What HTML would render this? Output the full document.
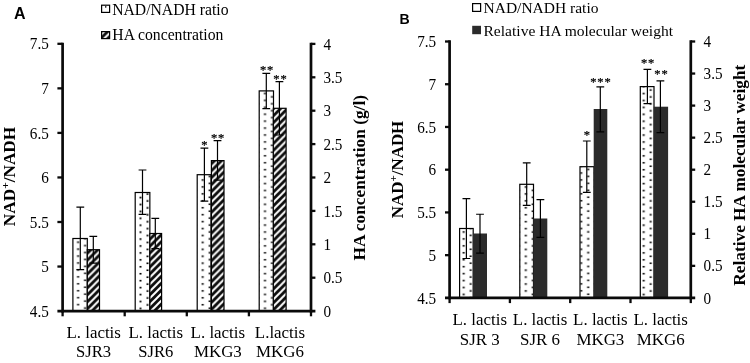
<!DOCTYPE html>
<html lang="en"><head><meta charset="utf-8"><title>NAD/NADH ratio figure</title>
<style>
html,body{margin:0;padding:0;background:#fff;}
body{width:750px;height:363px;overflow:hidden;}
svg{display:block;will-change:transform;filter:grayscale(1);}
text{fill:#000;}
.sf{font-family:"Liberation Serif","DejaVu Serif",serif;}
.ss{font-family:"Liberation Sans","DejaVu Sans",sans-serif;}
</style></head><body>
<svg width="750" height="363" viewBox="0 0 750 363">
<defs>
<pattern id="hG" patternUnits="userSpaceOnUse" x="4.55" y="0" width="6.93" height="6.93"><rect width="6.93" height="6.93" fill="#0c0c0c"/><path d="M-1,7.93L7.93,-1M-7.93,7.93L1,-1M5.93,7.93L14.86,-1" stroke="#fff" stroke-width="2.0" fill="none"/></pattern>
<pattern id="dA0" patternUnits="userSpaceOnUse" x="74.6" y="240.47" width="14" height="6.93"><rect width="14" height="6.93" fill="#fff"/><rect x="2.5" y="0.93" width="2.0" height="1.6" fill="#000"/><rect x="9.5" y="4.4" width="2.0" height="1.6" fill="#000"/></pattern>
<pattern id="dA1" patternUnits="userSpaceOnUse" x="137" y="195.77" width="14" height="6.93"><rect width="14" height="6.93" fill="#fff"/><rect x="2.5" y="0.93" width="2.0" height="1.6" fill="#000"/><rect x="9.5" y="4.4" width="2.0" height="1.6" fill="#000"/></pattern>
<pattern id="dA2" patternUnits="userSpaceOnUse" x="199.2" y="178.27" width="14" height="6.93"><rect width="14" height="6.93" fill="#fff"/><rect x="2.5" y="0.93" width="2.0" height="1.6" fill="#000"/><rect x="9.5" y="4.4" width="2.0" height="1.6" fill="#000"/></pattern>
<pattern id="dA3" patternUnits="userSpaceOnUse" x="261.5" y="112.47" width="14" height="6.93"><rect width="14" height="6.93" fill="#fff"/><rect x="2.5" y="0.93" width="2.0" height="1.6" fill="#000"/><rect x="9.5" y="4.4" width="2.0" height="1.6" fill="#000"/></pattern>
<pattern id="hL" patternUnits="userSpaceOnUse" x="103.2" y="32.6" width="6.93" height="6.93"><rect width="6.93" height="6.93" fill="#0c0c0c"/><path d="M-1,7.93L7.93,-1M-7.93,7.93L1,-1M5.93,7.93L14.86,-1" stroke="#fff" stroke-width="2.0" fill="none"/></pattern>
<pattern id="dB0" patternUnits="userSpaceOnUse" x="460.2" y="230.27" width="14" height="6.93"><rect width="14" height="6.93" fill="#fff"/><rect x="2.5" y="0.93" width="2.0" height="1.6" fill="#000"/><rect x="9.5" y="4.4" width="2.0" height="1.6" fill="#000"/></pattern>
<pattern id="dB1" patternUnits="userSpaceOnUse" x="522.3" y="185.27" width="14" height="6.93"><rect width="14" height="6.93" fill="#fff"/><rect x="2.5" y="0.93" width="2.0" height="1.6" fill="#000"/><rect x="9.5" y="4.4" width="2.0" height="1.6" fill="#000"/></pattern>
<pattern id="dB2" patternUnits="userSpaceOnUse" x="577.7" y="171.27" width="14" height="6.93"><rect width="14" height="6.93" fill="#fff"/><rect x="2.5" y="0.93" width="2.0" height="1.6" fill="#000"/><rect x="9.5" y="4.4" width="2.0" height="1.6" fill="#000"/></pattern>
<pattern id="dB3" patternUnits="userSpaceOnUse" x="640.2" y="140.27" width="14" height="6.93"><rect width="14" height="6.93" fill="#fff"/><rect x="2.5" y="0.93" width="2.0" height="1.6" fill="#000"/><rect x="9.5" y="4.4" width="2.0" height="1.6" fill="#000"/></pattern>
</defs>
<rect width="750" height="363" fill="#fff"/>
<rect x="72.9" y="238.5" width="14.4" height="72.6" fill="url(#dA0)" stroke="#000" stroke-width="1.2"/>
<rect x="87.3" y="249.7" width="12.2" height="61.4" fill="url(#hG)" stroke="#000" stroke-width="1.2"/>
<path d="M76.4,207.2H84.2M80.3,207.2V269.7M76.4,269.7H84.2" stroke="#000" stroke-width="1.2" fill="none"/>
<path d="M89.4,236.3H97.2M93.3,236.3V263.1M89.4,263.1H97.2" stroke="#000" stroke-width="1.2" fill="none"/>
<rect x="135.2" y="192.5" width="14.65" height="118.6" fill="url(#dA1)" stroke="#000" stroke-width="1.2"/>
<rect x="149.85" y="233.5" width="11.75" height="77.6" fill="url(#hG)" stroke="#000" stroke-width="1.2"/>
<path d="M138.6,170H146.4M142.5,170V214.4M138.6,214.4H146.4" stroke="#000" stroke-width="1.2" fill="none"/>
<path d="M151.4,218.4H159.2M155.3,218.4V248.6M151.4,248.6H159.2" stroke="#000" stroke-width="1.2" fill="none"/>
<rect x="197.2" y="174.7" width="13.8" height="136.4" fill="url(#dA2)" stroke="#000" stroke-width="1.2"/>
<rect x="211.4" y="160.6" width="12.6" height="150.5" fill="url(#hG)" stroke="#000" stroke-width="1.2"/>
<path d="M200.5,148.1H208.3M204.4,148.1V201.1M200.5,201.1H208.3" stroke="#000" stroke-width="1.2" fill="none"/>
<path d="M213.6,140.6H221.4M217.5,140.6V180.2M213.6,180.2H221.4" stroke="#000" stroke-width="1.2" fill="none"/>
<rect x="259.2" y="90.9" width="14.3" height="220.2" fill="url(#dA3)" stroke="#000" stroke-width="1.2"/>
<rect x="273.3" y="108.3" width="12.8" height="202.8" fill="url(#hG)" stroke="#000" stroke-width="1.2"/>
<path d="M262.4,73.4H270.2M266.3,73.4V108.7M262.4,108.7H270.2" stroke="#000" stroke-width="1.2" fill="none"/>
<path d="M275.5,81.7H283.3M279.4,81.7V135M275.5,135H283.3" stroke="#000" stroke-width="1.2" fill="none"/>
<text class="sf" transform="translate(204.9,149.19)" font-size="12.5" text-anchor="middle" letter-spacing="0.8" stroke="#000" stroke-width="0.25">*</text>
<text class="sf" transform="translate(218.05,141.59)" font-size="12.5" text-anchor="middle" letter-spacing="0.8" stroke="#000" stroke-width="0.25">**</text>
<text class="sf" transform="translate(267,73.89)" font-size="12.5" text-anchor="middle" letter-spacing="0.8" stroke="#000" stroke-width="0.25">**</text>
<text class="sf" transform="translate(280.4,83.19)" font-size="12.5" text-anchor="middle" letter-spacing="0.8" stroke="#000" stroke-width="0.25">**</text>
<line x1="62.6" y1="42.65" x2="62.6" y2="312.45" stroke="#0a0a0a" stroke-width="2.7"/>
<line x1="311" y1="42.75" x2="311" y2="312.45" stroke="#0a0a0a" stroke-width="2.7"/>
<line x1="57.4" y1="311.1" x2="315.4" y2="311.1" stroke="#0a0a0a" stroke-width="2.7"/>
<line x1="57.4" y1="43.8" x2="62.6" y2="43.8" stroke="#0a0a0a" stroke-width="2.3"/>
<text class="sf" transform="translate(48.8,49.4) scale(0.9700,1)" font-size="15.7" text-anchor="end">7.5</text>
<line x1="57.4" y1="88.35" x2="62.6" y2="88.35" stroke="#0a0a0a" stroke-width="2.3"/>
<text class="sf" transform="translate(48.8,93.95) scale(0.9700,1)" font-size="15.7" text-anchor="end">7</text>
<line x1="57.4" y1="132.9" x2="62.6" y2="132.9" stroke="#0a0a0a" stroke-width="2.3"/>
<text class="sf" transform="translate(48.8,138.5) scale(0.9700,1)" font-size="15.7" text-anchor="end">6.5</text>
<line x1="57.4" y1="177.45" x2="62.6" y2="177.45" stroke="#0a0a0a" stroke-width="2.3"/>
<text class="sf" transform="translate(48.8,183.05) scale(0.9700,1)" font-size="15.7" text-anchor="end">6</text>
<line x1="57.4" y1="222" x2="62.6" y2="222" stroke="#0a0a0a" stroke-width="2.3"/>
<text class="sf" transform="translate(48.8,227.6) scale(0.9700,1)" font-size="15.7" text-anchor="end">5.5</text>
<line x1="57.4" y1="266.55" x2="62.6" y2="266.55" stroke="#0a0a0a" stroke-width="2.3"/>
<text class="sf" transform="translate(48.8,272.15) scale(0.9700,1)" font-size="15.7" text-anchor="end">5</text>
<text class="sf" transform="translate(48.8,316.7) scale(0.9700,1)" font-size="15.7" text-anchor="end">4.5</text>
<line x1="311" y1="43.9" x2="315.4" y2="43.9" stroke="#0a0a0a" stroke-width="2.3"/>
<text class="sf" transform="translate(323.4,49.5) scale(0.9700,1)" font-size="15.7">4</text>
<line x1="311" y1="77.3" x2="315.4" y2="77.3" stroke="#0a0a0a" stroke-width="2.3"/>
<text class="sf" transform="translate(323.4,82.9) scale(0.9700,1)" font-size="15.7">3.5</text>
<line x1="311" y1="110.7" x2="315.4" y2="110.7" stroke="#0a0a0a" stroke-width="2.3"/>
<text class="sf" transform="translate(323.4,116.3) scale(0.9700,1)" font-size="15.7">3</text>
<line x1="311" y1="144.1" x2="315.4" y2="144.1" stroke="#0a0a0a" stroke-width="2.3"/>
<text class="sf" transform="translate(323.4,149.7) scale(0.9700,1)" font-size="15.7">2.5</text>
<line x1="311" y1="177.5" x2="315.4" y2="177.5" stroke="#0a0a0a" stroke-width="2.3"/>
<text class="sf" transform="translate(323.4,183.1) scale(0.9700,1)" font-size="15.7">2</text>
<line x1="311" y1="210.9" x2="315.4" y2="210.9" stroke="#0a0a0a" stroke-width="2.3"/>
<text class="sf" transform="translate(323.4,216.5) scale(0.9700,1)" font-size="15.7">1.5</text>
<line x1="311" y1="244.3" x2="315.4" y2="244.3" stroke="#0a0a0a" stroke-width="2.3"/>
<text class="sf" transform="translate(323.4,249.9) scale(0.9700,1)" font-size="15.7">1</text>
<line x1="311" y1="277.7" x2="315.4" y2="277.7" stroke="#0a0a0a" stroke-width="2.3"/>
<text class="sf" transform="translate(323.4,283.3) scale(0.9700,1)" font-size="15.7">0.5</text>
<text class="sf" transform="translate(323.4,316.7) scale(0.9700,1)" font-size="15.7">0</text>
<line x1="62.6" y1="311.1" x2="62.6" y2="316.3" stroke="#0a0a0a" stroke-width="2.3"/>
<line x1="124.7" y1="311.1" x2="124.7" y2="316.3" stroke="#0a0a0a" stroke-width="2.3"/>
<line x1="186.8" y1="311.1" x2="186.8" y2="316.3" stroke="#0a0a0a" stroke-width="2.3"/>
<line x1="248.9" y1="311.1" x2="248.9" y2="316.3" stroke="#0a0a0a" stroke-width="2.3"/>
<line x1="311" y1="311.1" x2="311" y2="316.3" stroke="#0a0a0a" stroke-width="2.3"/>
<text class="sf" transform="translate(93.65,337.6) scale(1.0200,1)" font-size="16.6" text-anchor="middle">L. lactis</text>
<text class="sf" transform="translate(93.65,357.4)" font-size="16.6" text-anchor="middle">SJR3</text>
<text class="sf" transform="translate(155.75,337.6) scale(1.0200,1)" font-size="16.6" text-anchor="middle">L. lactis</text>
<text class="sf" transform="translate(155.75,357.4)" font-size="16.6" text-anchor="middle">SJR6</text>
<text class="sf" transform="translate(217.85,337.6) scale(1.0200,1)" font-size="16.6" text-anchor="middle">L. lactis</text>
<text class="sf" transform="translate(217.85,357.4) scale(1.0200,1)" font-size="16.6" text-anchor="middle">MKG3</text>
<text class="sf" transform="translate(279.95,337.6) scale(1.0200,1)" font-size="16.6" text-anchor="middle">L.lactis</text>
<text class="sf" transform="translate(279.95,357.4) scale(1.0200,1)" font-size="16.6" text-anchor="middle">MKG6</text>
<text class="ss" transform="translate(14,18.7)" font-size="16" font-weight="bold">A</text>
<rect x="101.6" y="5.2" width="8" height="7.2" fill="#fff" stroke="#000" stroke-width="1.2"/>
<rect x="105" y="6.2" width="1.4" height="1.4" fill="#000"/>
<text class="sf" transform="translate(112.2,14.5)" font-size="15.7">NAD/NADH ratio</text>
<rect x="101.6" y="31.6" width="8" height="7" fill="url(#hL)" stroke="#000" stroke-width="1.2"/>
<text class="sf" transform="translate(112.3,40)" font-size="15.7">HA concentration</text>
<text class="sf" transform="translate(14.7,176.5) rotate(-90) scale(1.0900,1)" font-size="15.8" text-anchor="middle" font-weight="bold">NAD<tspan font-size="10.5" dy="-6.2">+</tspan><tspan dy="6.2">/NADH</tspan></text>
<text class="sf" transform="translate(365.2,177.8) rotate(-90) scale(1.0970,1)" font-size="15.8" text-anchor="middle" font-weight="bold">HA concentration (g/l)</text>
<rect x="459.6" y="228.5" width="13.6" height="69.4" fill="url(#dB0)" stroke="#000" stroke-width="1.2"/>
<rect x="472.9" y="233.5" width="14.1" height="64.4" fill="#2b2b2b"/>
<path d="M462.5,198.6H470.3M466.4,198.6V258.5M462.5,258.5H470.3" stroke="#000" stroke-width="1.2" fill="none"/>
<path d="M476.1,214.25H483.9M480,214.25V253.2M476.1,253.2H483.9" stroke="#000" stroke-width="1.2" fill="none"/>
<rect x="519.8" y="184.3" width="13.7" height="113.6" fill="url(#dB1)" stroke="#000" stroke-width="1.2"/>
<rect x="533.2" y="218.5" width="14.1" height="79.4" fill="#2b2b2b"/>
<path d="M522.8,162.8H530.6M526.7,162.8V205.3M522.8,205.3H530.6" stroke="#000" stroke-width="1.2" fill="none"/>
<path d="M536.5,199.6H544.3M540.4,199.6V237.4M536.5,237.4H544.3" stroke="#000" stroke-width="1.2" fill="none"/>
<rect x="580" y="166.7" width="14" height="131.2" fill="url(#dB2)" stroke="#000" stroke-width="1.2"/>
<rect x="593.7" y="109" width="13.6" height="188.9" fill="#2b2b2b"/>
<path d="M582.9,141H590.7M586.8,141V192.4M582.9,192.4H590.7" stroke="#000" stroke-width="1.2" fill="none"/>
<path d="M596.4,86.9H604.2M600.3,86.9V131.8M596.4,131.8H604.2" stroke="#000" stroke-width="1.2" fill="none"/>
<rect x="640.3" y="86.6" width="13.7" height="211.3" fill="url(#dB3)" stroke="#000" stroke-width="1.2"/>
<rect x="653.7" y="106.7" width="14.4" height="191.2" fill="#2b2b2b"/>
<path d="M643.5,69.4H651.3M647.4,69.4V103.6M643.5,103.6H651.3" stroke="#000" stroke-width="1.2" fill="none"/>
<path d="M656.5,80.9H664.3M660.4,80.9V132.6M656.5,132.6H664.3" stroke="#000" stroke-width="1.2" fill="none"/>
<text class="sf" transform="translate(587.4,139.49)" font-size="12.5" text-anchor="middle" letter-spacing="0.8" stroke="#000" stroke-width="0.25">*</text>
<text class="sf" transform="translate(600.9,86.29)" font-size="12.5" text-anchor="middle" letter-spacing="0.8" stroke="#000" stroke-width="0.25">***</text>
<text class="sf" transform="translate(648.1,67.49)" font-size="12.5" text-anchor="middle" letter-spacing="0.8" stroke="#000" stroke-width="0.25">**</text>
<text class="sf" transform="translate(661.4,78.49)" font-size="12.5" text-anchor="middle" letter-spacing="0.8" stroke="#000" stroke-width="0.25">**</text>
<line x1="449.6" y1="40.35" x2="449.6" y2="299.25" stroke="#0a0a0a" stroke-width="2.7"/>
<line x1="690.8" y1="40.35" x2="690.8" y2="299.25" stroke="#0a0a0a" stroke-width="2.7"/>
<line x1="445" y1="297.9" x2="695.2" y2="297.9" stroke="#0a0a0a" stroke-width="2.7"/>
<line x1="445" y1="41.5" x2="449.6" y2="41.5" stroke="#0a0a0a" stroke-width="2.3"/>
<text class="sf" transform="translate(436.2,47.1) scale(0.9700,1)" font-size="15.7" text-anchor="end">7.5</text>
<line x1="445" y1="84.23" x2="449.6" y2="84.23" stroke="#0a0a0a" stroke-width="2.3"/>
<text class="sf" transform="translate(436.2,89.83) scale(0.9700,1)" font-size="15.7" text-anchor="end">7</text>
<line x1="445" y1="126.97" x2="449.6" y2="126.97" stroke="#0a0a0a" stroke-width="2.3"/>
<text class="sf" transform="translate(436.2,132.57) scale(0.9700,1)" font-size="15.7" text-anchor="end">6.5</text>
<line x1="445" y1="169.7" x2="449.6" y2="169.7" stroke="#0a0a0a" stroke-width="2.3"/>
<text class="sf" transform="translate(436.2,175.3) scale(0.9700,1)" font-size="15.7" text-anchor="end">6</text>
<line x1="445" y1="212.43" x2="449.6" y2="212.43" stroke="#0a0a0a" stroke-width="2.3"/>
<text class="sf" transform="translate(436.2,218.03) scale(0.9700,1)" font-size="15.7" text-anchor="end">5.5</text>
<line x1="445" y1="255.17" x2="449.6" y2="255.17" stroke="#0a0a0a" stroke-width="2.3"/>
<text class="sf" transform="translate(436.2,260.77) scale(0.9700,1)" font-size="15.7" text-anchor="end">5</text>
<text class="sf" transform="translate(436.2,303.5) scale(0.9700,1)" font-size="15.7" text-anchor="end">4.5</text>
<line x1="690.8" y1="41.5" x2="695.2" y2="41.5" stroke="#0a0a0a" stroke-width="2.3"/>
<text class="sf" transform="translate(703.6,47.1) scale(0.9700,1)" font-size="15.7">4</text>
<line x1="690.8" y1="73.55" x2="695.2" y2="73.55" stroke="#0a0a0a" stroke-width="2.3"/>
<text class="sf" transform="translate(703.6,79.15) scale(0.9700,1)" font-size="15.7">3.5</text>
<line x1="690.8" y1="105.6" x2="695.2" y2="105.6" stroke="#0a0a0a" stroke-width="2.3"/>
<text class="sf" transform="translate(703.6,111.2) scale(0.9700,1)" font-size="15.7">3</text>
<line x1="690.8" y1="137.65" x2="695.2" y2="137.65" stroke="#0a0a0a" stroke-width="2.3"/>
<text class="sf" transform="translate(703.6,143.25) scale(0.9700,1)" font-size="15.7">2.5</text>
<line x1="690.8" y1="169.7" x2="695.2" y2="169.7" stroke="#0a0a0a" stroke-width="2.3"/>
<text class="sf" transform="translate(703.6,175.3) scale(0.9700,1)" font-size="15.7">2</text>
<line x1="690.8" y1="201.75" x2="695.2" y2="201.75" stroke="#0a0a0a" stroke-width="2.3"/>
<text class="sf" transform="translate(703.6,207.35) scale(0.9700,1)" font-size="15.7">1.5</text>
<line x1="690.8" y1="233.8" x2="695.2" y2="233.8" stroke="#0a0a0a" stroke-width="2.3"/>
<text class="sf" transform="translate(703.6,239.4) scale(0.9700,1)" font-size="15.7">1</text>
<line x1="690.8" y1="265.85" x2="695.2" y2="265.85" stroke="#0a0a0a" stroke-width="2.3"/>
<text class="sf" transform="translate(703.6,271.45) scale(0.9700,1)" font-size="15.7">0.5</text>
<text class="sf" transform="translate(703.6,303.5) scale(0.9700,1)" font-size="15.7">0</text>
<line x1="449.6" y1="297.9" x2="449.6" y2="303.1" stroke="#0a0a0a" stroke-width="2.3"/>
<line x1="509.9" y1="297.9" x2="509.9" y2="303.1" stroke="#0a0a0a" stroke-width="2.3"/>
<line x1="570.2" y1="297.9" x2="570.2" y2="303.1" stroke="#0a0a0a" stroke-width="2.3"/>
<line x1="630.5" y1="297.9" x2="630.5" y2="303.1" stroke="#0a0a0a" stroke-width="2.3"/>
<line x1="690.8" y1="297.9" x2="690.8" y2="303.1" stroke="#0a0a0a" stroke-width="2.3"/>
<text class="sf" transform="translate(479.75,324.5) scale(1.0200,1)" font-size="16.6" text-anchor="middle">L. lactis</text>
<text class="sf" transform="translate(479.75,344.5) scale(1.0200,1)" font-size="16.6" text-anchor="middle">SJR 3</text>
<text class="sf" transform="translate(540.05,324.5) scale(1.0200,1)" font-size="16.6" text-anchor="middle">L. lactis</text>
<text class="sf" transform="translate(540.05,344.5) scale(1.0200,1)" font-size="16.6" text-anchor="middle">SJR 6</text>
<text class="sf" transform="translate(600.35,324.5) scale(1.0200,1)" font-size="16.6" text-anchor="middle">L. lactis</text>
<text class="sf" transform="translate(600.35,344.5) scale(1.0200,1)" font-size="16.6" text-anchor="middle">MKG3</text>
<text class="sf" transform="translate(660.65,324.5) scale(1.0200,1)" font-size="16.6" text-anchor="middle">L. lactis</text>
<text class="sf" transform="translate(660.65,344.5) scale(1.0200,1)" font-size="16.6" text-anchor="middle">MKG6</text>
<text class="ss" transform="translate(399.6,24.4) scale(0.9400,1)" font-size="15" font-weight="bold">B</text>
<rect x="472.6" y="3.6" width="8" height="7.8" fill="#fff" stroke="#000" stroke-width="1.2"/>
<text class="sf" transform="translate(483.5,12.8)" font-size="15.5">NAD/NADH ratio</text>
<rect x="472.2" y="25.8" width="8.8" height="8.4" fill="#2b2b2b"/>
<text class="sf" transform="translate(483.5,35.5)" font-size="15.55">Relative HA molecular weight</text>
<text class="sf" transform="translate(402.7,169.5) rotate(-90) scale(1.0700,1)" font-size="15.8" text-anchor="middle" font-weight="bold">NAD<tspan font-size="10.5" dy="-6.2">+</tspan><tspan dy="6.2">/NADH</tspan></text>
<text class="sf" transform="translate(745.3,175.2) rotate(-90) scale(1.0950,1)" font-size="15.8" text-anchor="middle" font-weight="bold">Relative HA molecular weight</text>
</svg>
</body></html>
